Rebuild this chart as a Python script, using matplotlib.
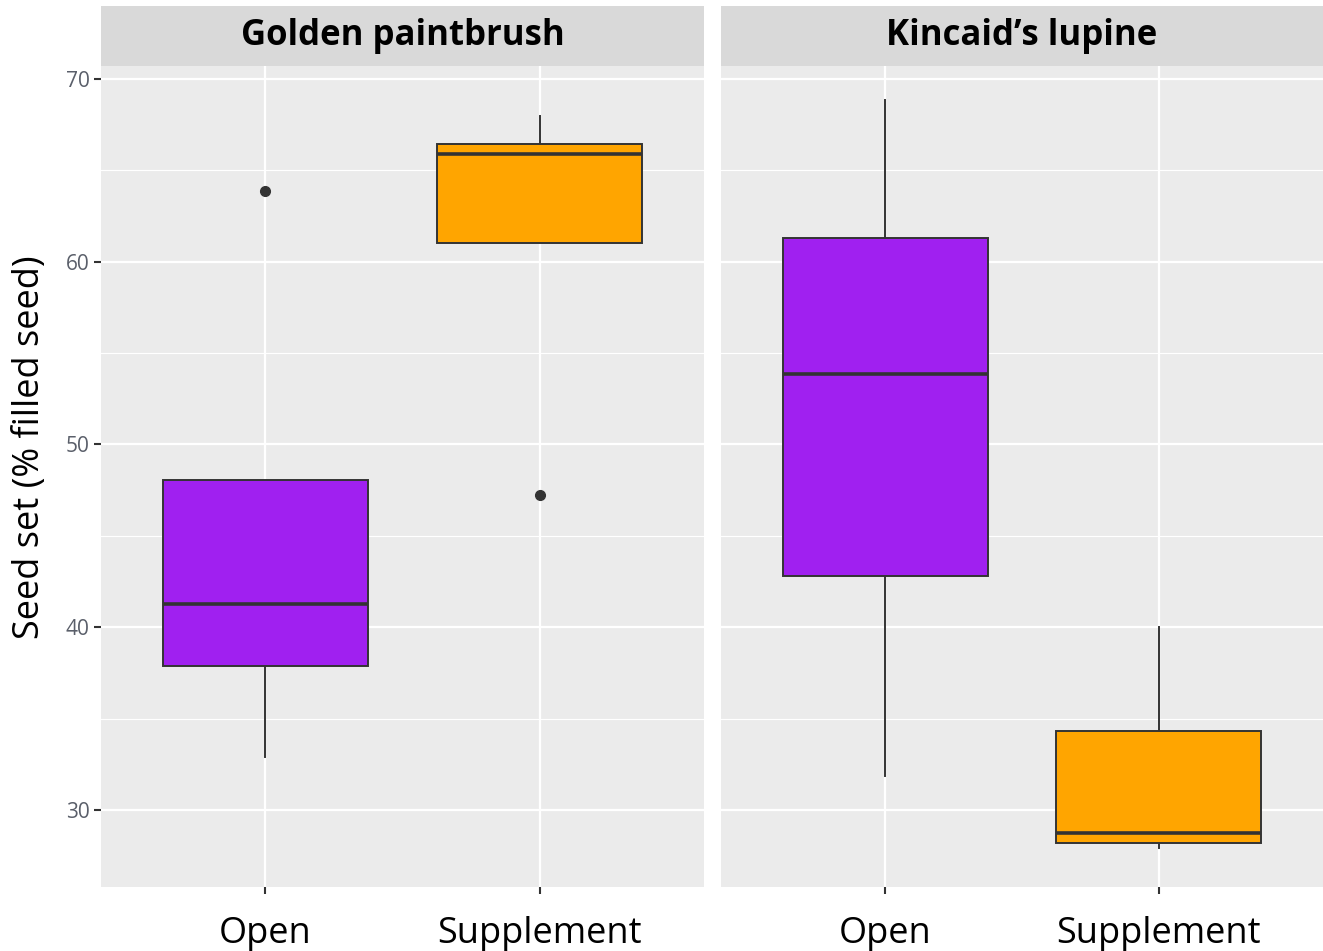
import matplotlib
matplotlib.use("Agg")
import matplotlib.pyplot as plt
from matplotlib.patches import Rectangle

plt.rcParams['font.family'] = ['Open Sans', 'DejaVu Sans']

species = ["Golden paintbrush", "Kincaid\u2019s lupine"]
treatments = ["Open", "Supplement"]
fills = ["#A020F0", "#FFA500"]

# five-number summaries per species: [Open, Supplement]
whislo = [[32.9, 61.0], [31.85, 27.9]]
q1 = [[37.87, 61.02], [42.8, 28.18]]
med = [[41.27, 65.89], [53.85, 28.73]]
q3 = [[48.05, 66.44], [61.3, 34.31]]
whishi = [[48.05, 67.97], [68.85, 40.01]]
outliers = [[[63.87], [47.23]], [[], []]]

fig = plt.figure(figsize=(13.23, 9.51), dpi=100)
lefts = [0.0763, 0.545]
rights = [0.5321, 1.0]
bottom, top, strip_top = 0.0673, 0.9306, 0.9937

for i, name in enumerate(species):
    ax = fig.add_axes([lefts[i], bottom, rights[i] - lefts[i], top - bottom])
    ax.set_facecolor("#EBEBEB")
    stats = []
    for j in range(2):
        stats.append(dict(whislo=whislo[i][j], q1=q1[i][j], med=med[i][j],
                          q3=q3[i][j], whishi=whishi[i][j], fliers=outliers[i][j]))
    bp = ax.bxp(stats, positions=[1, 2], widths=0.75, patch_artist=True,
                showcaps=False,
                boxprops=dict(edgecolor="#333333", linewidth=1.4),
                medianprops=dict(color="#333333", linewidth=2.6, zorder=4),
                whiskerprops=dict(color="#333333", linewidth=1.4),
                flierprops=dict(marker="o", markerfacecolor="#333333",
                                markeredgecolor="#333333", markersize=7))
    for patch, c in zip(bp["boxes"], fills):
        patch.set_facecolor(c)
        patch.set_zorder(3)
    ax.set_xlim(0.4, 2.6)
    ax.set_ylim(25.78, 70.71)
    ax.set_yticks([30, 40, 50, 60, 70])
    ax.set_yticks([35, 45, 55, 65], minor=True)
    ax.grid(which="major", color="white", linewidth=1.6, zorder=0)
    ax.grid(which="minor", axis="y", color="white", linewidth=0.8, zorder=0)
    ax.set_axisbelow(True)
    for s in ax.spines.values():
        s.set_visible(False)
    ax.set_xticks([1, 2])
    ax.set_xticklabels(treatments, fontsize=26, color="black")
    ax.tick_params(axis="x", length=5, width=1.5, color="#333333", pad=16)
    ax.tick_params(axis="y", which="major", length=5, width=1.5, color="#333333",
                   labelsize=15, labelcolor="#5A5F6A", pad=3)
    ax.tick_params(axis="y", which="minor", length=0)
    if i == 0:
        ax.set_ylabel("Seed set (% filled seed)", fontsize=26)
        ax.yaxis.set_label_coords(-0.088, 0.536)
    else:
        ax.set_yticklabels([])
        ax.tick_params(axis="y", which="major", length=0)

    # facet strip
    fig.patches.append(Rectangle((lefts[i], top), rights[i] - lefts[i], strip_top - top,
                                 transform=fig.transFigure, facecolor="#D9D9D9",
                                 edgecolor="none"))
    fig.text((lefts[i] + rights[i]) / 2, (top + strip_top) / 2, name,
             ha="center", va="center", fontsize=25, fontweight="bold", color="black")

plt.savefig("out.png", dpi=100)
